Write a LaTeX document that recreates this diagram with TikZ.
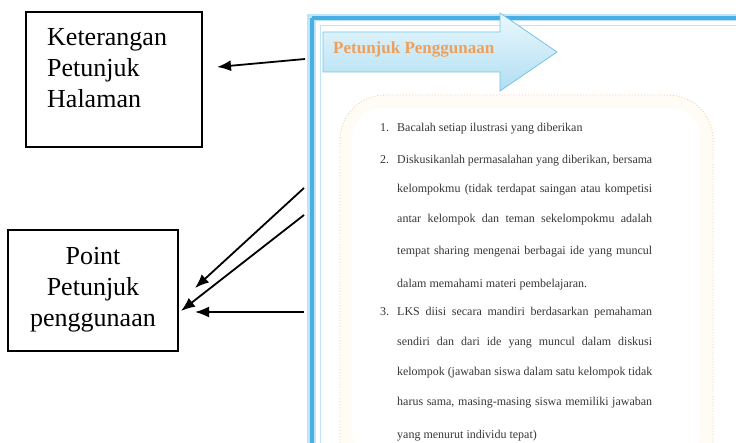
\documentclass[tikz,border=0pt]{standalone}
\usepackage{graphicx}
\usepackage{fontspec}
\setmainfont{Liberation Serif}
\usetikzlibrary{arrows.meta}
\definecolor{frameblue}{RGB}{70,175,228}
\definecolor{framelight}{RGB}{190,228,246}
\definecolor{bannertop}{RGB}{235,248,253}
\definecolor{bannerbot}{RGB}{175,222,242}
\definecolor{bannerline}{RGB}{120,195,230}
\definecolor{titleorange}{RGB}{238,160,90}
\definecolor{dotorange}{RGB}{240,205,170}
\definecolor{creamfill}{RGB}{255,252,245}
\definecolor{listgray}{RGB}{55,55,55}
\tikzset{
  labelbox/.style={draw=black,line width=1.6pt,fill=white,inner sep=0pt},
  labeltext/.style={font=\rmfamily\fontsize{26}{31}\selectfont,inner sep=0pt},
  pointer/.style={line width=1.8pt,-{Latex[length=14pt,width=11pt]}},
  listline/.style={font=\rmfamily\fontsize{12}{14}\selectfont,text=listgray,anchor=base west,inner sep=0pt}
}
\newsavebox\jlbox
\newcommand{\jline}[1]{\sbox\jlbox{#1}\ifdim\wd\jlbox>255pt \resizebox{255pt}{\height}{\usebox\jlbox}\else\makebox[255pt][s]{#1}\fi}
\newcommand{\lline}[1]{\sbox\jlbox{#1}\ifdim\wd\jlbox>255pt \resizebox{255pt}{\height}{\usebox\jlbox}\else\usebox\jlbox\fi}
\begin{document}
\begin{tikzpicture}[x=1pt,y=-1pt]
\useasboundingbox (0,0) rectangle (736,443);
% page picture
\fill[framelight] (307,14) rectangle (740,450);
\fill[white] (316,21) rectangle (740,450);
\draw[frameblue,line width=3.5pt] (312,18) -- (740,18);
\draw[frameblue,line width=3.5pt] (312,18) -- (312,450);
\draw[framelight,line width=1pt] (320,26) rectangle (745,460);
% dotted rounded panel
\draw[dotorange,fill=creamfill,line width=0.9pt,dotted,rounded corners=45pt]
  (340,460) -- (340,95) -- (713,95) -- (713,460);
\fill[white,rounded corners=30pt] (352,108) rectangle (700,460);
% banner arrow
\shade[top color=bannertop,bottom color=bannerbot,draw=bannerline,line width=0.8pt]
  (323,32) -- (500,32) -- (500,13) -- (557,52) -- (500,91) -- (500,72) -- (323,72) -- cycle;
\node[font=\rmfamily\fontsize{17}{20}\selectfont\bfseries,text=titleorange,anchor=west,inner sep=0pt] (title) at (333,49) {Petunjuk Penggunaan};
% list text
\node[listline] (n1) at (380,132) {1.};
\node[listline] (l1) at (397,132) {\lline{Bacalah setiap ilustrasi yang diberikan}};
\node[listline] (n2) at (380,164) {2.};
\node[listline] (l2) at (397,164) {\jline{Diskusikanlah permasalahan yang diberikan, bersama}};
\node[listline] (l3) at (397,193) {\jline{kelompokmu (tidak terdapat saingan atau kompetisi}};
\node[listline] (l4) at (397,223) {\jline{antar kelompok dan teman sekelompokmu adalah}};
\node[listline] (l5) at (397,255) {\jline{tempat sharing mengenai berbagai ide yang muncul}};
\node[listline] (l6) at (397,288) {\lline{dalam memahami materi pembelajaran.}};
\node[listline] (n3) at (380,316) {3.};
\node[listline] (l7) at (397,316) {\jline{LKS diisi secara mandiri berdasarkan pemahaman}};
\node[listline] (l8) at (397,346) {\jline{sendiri dan dari ide yang muncul dalam diskusi}};
\node[listline] (l9) at (397,376) {\jline{kelompok (jawaban siswa dalam satu kelompok tidak}};
\node[listline] (l10) at (397,406) {\jline{harus sama, masing-masing siswa memiliki jawaban}};
\node[listline] (l11) at (397,438) {\lline{yang menurut individu tepat)}};
% label boxes
\node[labelbox,minimum width=176pt,minimum height=135pt] (ket) at (114,79.5) {};
\node[labeltext,align=left,anchor=north west] (kett) at (47,28) {Keterangan\\Petunjuk\\Halaman};
\node[labelbox,minimum width=170pt,minimum height=121pt] (poin) at (93,290.5) {};
\node[labeltext,align=center,anchor=north] (point) at (93,247) {Point\\Petunjuk\\penggunaan};
% connectors
\coordinate (s1) at (305,59);
\coordinate (e1) at (217,67);
\coordinate (s2) at (304,188);
\coordinate (e2) at (195,288);
\coordinate (s3) at (304,215);
\coordinate (e3) at (181,311);
\coordinate (s4) at (304,312);
\coordinate (e4) at (195,312);
\draw[pointer] (s1) -- (e1);
\draw[pointer] (s2) -- (e2);
\draw[pointer] (s3) -- (e3);
\draw[pointer] (s4) -- (e4);
\end{tikzpicture}
\end{document}
